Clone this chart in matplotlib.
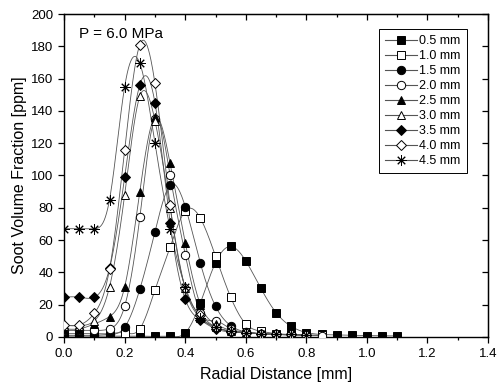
import numpy as np
import matplotlib
matplotlib.use('Agg')
import matplotlib.pyplot as plt
from matplotlib.ticker import MultipleLocator

plt.rcParams['font.family'] = ['Liberation Sans', 'DejaVu Sans']

# radial positions [mm]
r = np.round(np.arange(0, 1.101, 0.05), 2)

labels = ['0.5 mm', '1.0 mm', '1.5 mm', '2.0 mm', '2.5 mm',
          '3.0 mm', '3.5 mm', '4.0 mm', '4.5 mm']

# soot volume fraction [ppm]
fv_05 = [0.5, 0.5, 0.5, 0.5, 0.5, 0.5, 0.3, 0.3, 2.5, 21, 46, 56, 47, 30, 15, 6.5, 2.7,
         1.5, 1.2, 1.0, 0.8, 0.7, 0.6]
fv_10 = [2, 2, 2, 2, 2.5, 5, 29, 55.5, 78, 73.5, 50, 24.6, 8, 3.5, 2, 1.5, 1.2, 1.0]
fv_15 = [1, 1, 1, 1.5, 6, 29.5, 65, 94, 80.7, 45.6, 19, 7, 3, 2, 1.5, 1.2, 1.0]
fv_20 = [4, 4, 4, 5, 19, 74, 135, 100, 51, 15, 10, 5, 3, 2, 1.5, 1.2, 1.0, 0.8]
fv_25 = [5, 5, 8, 12.6, 31, 90, 136, 107.5, 58.4, 20, 8, 4, 2.5, 2, 1.5, 1.2, 1.0]
fv_30 = [7, 7, 10, 31, 88, 149, 134, 80, 30, 12, 6, 3.5, 2.5, 2, 1.5, 1.5, 1.2]
fv_35 = [24.6, 24.6, 24.6, 42.5, 99, 156, 145, 70.8, 23.3, 10.5, 5, 3, 2.5, 2, 1.5, 1.5, 1.2]
fv_40 = [7.4, 7.4, 14.7, 42, 116, 181, 157, 81.7, 30, 13.6, 6, 3.5, 2.5, 2, 1.5, 1.5, 1.2]
fv_45 = [67, 67, 67, 85, 155, 169.5, 120, 67, 31, 12, 6, 3.5, 2.5, 2, 1.5, 1.5, 1.2]

series = [fv_05, fv_10, fv_15, fv_20, fv_25, fv_30, fv_35, fv_40, fv_45]
markers = ['s', 's', 'o', 'o', '^', '^', 'D', 'D', (8, 2, 0)]
fills = ['k', 'w', 'k', 'w', 'k', 'w', 'k', 'w', 'k']
sizes = [5.5, 5.5, 6, 6, 6, 6, 5.5, 5.5, 7.5]


def spline(x, y, n=400):
    # natural cubic spline like Origin's "spline" connection
    x = np.asarray(x, float)
    y = np.asarray(y, float)
    k = len(x)
    h = np.diff(x)
    A = np.zeros((k, k))
    b = np.zeros(k)
    A[0, 0] = A[-1, -1] = 1
    for i in range(1, k - 1):
        A[i, i - 1] = h[i - 1]
        A[i, i] = 2 * (h[i - 1] + h[i])
        A[i, i + 1] = h[i]
        b[i] = 3 * ((y[i + 1] - y[i]) / h[i] - (y[i] - y[i - 1]) / h[i - 1])
    c = np.linalg.solve(A, b)
    xs = np.linspace(x[0], x[-1], n)
    idx = np.clip(np.searchsorted(x, xs) - 1, 0, k - 2)
    dx = xs - x[idx]
    bb = (y[idx + 1] - y[idx]) / h[idx] - h[idx] * (2 * c[idx] + c[idx + 1]) / 3
    dd = (c[idx + 1] - c[idx]) / (3 * h[idx])
    return xs, y[idx] + bb * dx + c[idx] * dx ** 2 + dd * dx ** 3


fig = plt.figure(figsize=(4.97, 3.89), dpi=100)
ax = fig.add_axes([0.129, 0.134, 0.853, 0.830])

for fv, lab, m, fc, ms in zip(series, labels, markers, fills, sizes):
    x = r[:len(fv)]
    xs, ys = spline(x, fv)
    ax.plot(xs, ys, color='#555555', lw=0.6, zorder=2)
    ax.plot(x, fv, ls='none', marker=m, mfc=fc, mec='k', mew=0.7, ms=ms, zorder=3)
    ax.plot([], [], color='#555555', lw=0.8, marker=m, mfc=fc, mec='k', mew=0.7,
            ms=ms, label=lab)

ax.set_xlim(0, 1.4)
ax.set_ylim(0, 200)
ax.xaxis.set_major_locator(MultipleLocator(0.2))
ax.xaxis.set_minor_locator(MultipleLocator(0.1))
ax.yaxis.set_major_locator(MultipleLocator(20))
ax.xaxis.set_major_formatter(plt.FormatStrFormatter('%.1f'))
ax.tick_params(which='both', direction='out', labelsize=9.5, width=0.9)
ax.tick_params(which='major', length=4.5)
ax.tick_params(which='minor', length=2.5)
for s in ax.spines.values():
    s.set_linewidth(1.0)

# mirrored top/right axes with inward ticks
top = ax.secondary_xaxis('top')
top.xaxis.set_major_locator(MultipleLocator(0.2))
top.xaxis.set_minor_locator(MultipleLocator(0.1))
top.tick_params(which='both', direction='in', labeltop=False, width=0.9)
top.tick_params(which='major', length=4.5)
top.tick_params(which='minor', length=2.5)
right = ax.secondary_yaxis('right')
right.yaxis.set_major_locator(MultipleLocator(20))
right.tick_params(direction='in', labelright=False, length=4.5, width=0.9)

ax.set_xlabel('Radial Distance [mm]', fontsize=11.5, labelpad=5)
ax.set_ylabel('Soot Volume Fraction [ppm]', fontsize=11.5, labelpad=3)
ax.text(0.035, 0.96, 'P = 6.0 MPa', transform=ax.transAxes, fontsize=11,
        va='top', ha='left')

leg = ax.legend(loc='upper left', bbox_to_anchor=(0.743, 0.954), fontsize=9,
                fancybox=False, edgecolor='k', framealpha=1, handlelength=2.5,
                labelspacing=0.24, borderpad=0.5, handletextpad=0.2,
                borderaxespad=0)
leg.get_frame().set_linewidth(0.7)

fig.savefig('out.png', dpi=100)
